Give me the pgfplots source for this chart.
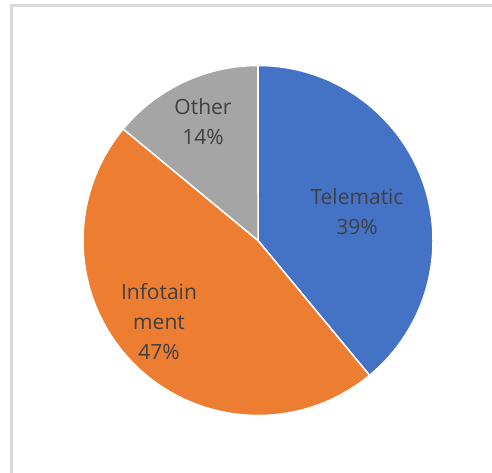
\documentclass[border=0pt]{standalone}
\usepackage{pgfplots}
\usepackage{pgfplotstable}
\pgfplotsset{compat=1.18}
\usepackage{fontspec}
\setmainfont{Open Sans}
\definecolor{cBlue}{HTML}{4472C4}
\definecolor{cOrange}{HTML}{ED7D31}
\definecolor{cGray}{HTML}{A5A5A5}
\definecolor{cText}{HTML}{404040}
\definecolor{cFrame}{HTML}{D9D9D9}
\pgfplotstableread{
label value
Telematic 39
Infotainment 47
Other 14
}\piedata
\begin{document}
\begin{tikzpicture}
\begin{axis}[scale only axis, width=492pt, height=472pt,
  xmin=0, xmax=492, ymin=0, ymax=472, axis lines=none]
  \path[fill=white] (axis cs:0,0) rectangle (axis cs:492,472);
  \draw[cFrame, line width=2.2pt] (axis cs:11.5,-10) |- (axis cs:510,466.5);
  \pgfplotstablegetelem{0}{value}\of\piedata \let\va\pgfplotsretval
  \pgfplotstablegetelem{1}{value}\of\piedata \let\vb\pgfplotsretval
  \pgfplotstablegetelem{2}{value}\of\piedata \let\vc\pgfplotsretval
  \pgfmathsetmacro\tot{\va+\vb+\vc}
  \pgfmathsetmacro\aA{90}
  \pgfmathsetmacro\aB{90-\va/\tot*360}
  \pgfmathsetmacro\aC{\aB-\vb/\tot*360}
  \pgfmathsetmacro\aD{\aC-\vc/\tot*360}
  \coordinate (C) at (axis cs:258,231.5);
  \filldraw[fill=cBlue, draw=white, line width=1.5pt, line join=round] (C) -- ++(\aA:175pt) arc[start angle=\aA, end angle=\aB, radius=175pt] -- cycle;
  \filldraw[fill=cOrange, draw=white, line width=1.5pt, line join=round] (C) -- ++(\aB:175pt) arc[start angle=\aB, end angle=\aC, radius=175pt] -- cycle;
  \filldraw[fill=cGray, draw=white, line width=1.5pt, line join=round] (C) -- ++(\aC:175pt) arc[start angle=\aC, end angle=\aD, radius=175pt] -- cycle;
  \begin{scope}[every node/.style={text=cText, font=\fontsize{21}{30}\selectfont, align=center}]
    \node at (axis cs:357,260) {Telematic\\\va\%};
    \node at (axis cs:203,350) {Other\\\vc\%};
    \node at (axis cs:159,150) {Infotain\\ment\\\vb\%};
  \end{scope}
\end{axis}
\end{tikzpicture}
\end{document}
